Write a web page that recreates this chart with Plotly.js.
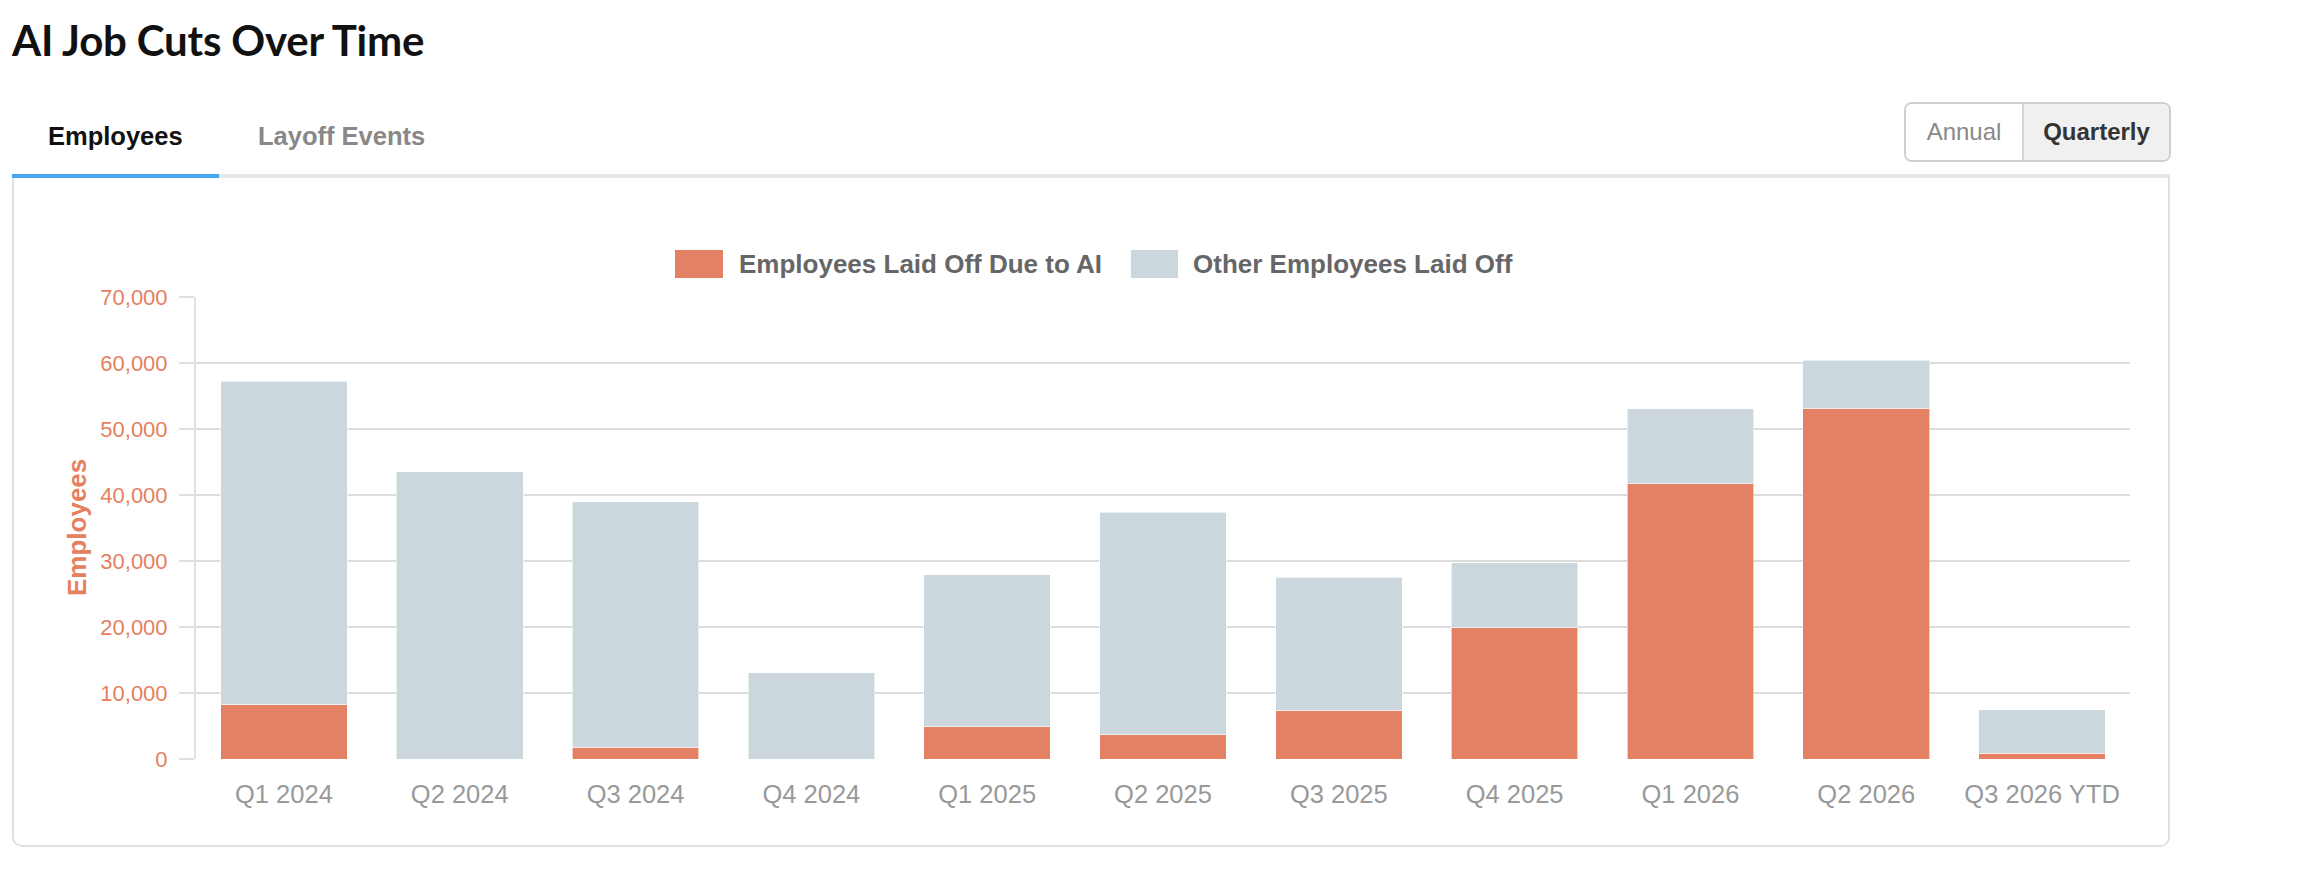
<!DOCTYPE html>
<html>
<head>
<meta charset="utf-8">
<title>AI Job Cuts Over Time</title>
<script src="https://cdn.plot.ly/plotly-3.0.1.min.js"></script>
<style>
    body { margin: 0; background: #fff; font-family: "Liberation Sans", Arial, sans-serif; }
    #page { position: relative; width: 2306px; height: 890px; overflow: hidden; }
    .abs { position: absolute; white-space: nowrap; }
    #title { left: 12px; top: 16px; font-family: Lato, sans-serif; font-weight: 700; font-size: 42px; line-height: 48px; color: #111; letter-spacing: -0.2px; }
    .tab { top: 121px; font-size: 25.5px; line-height: 30px; font-weight: bold; }
    #tabEmployees { left: 48px; color: #111; }
    #tabEvents { left: 258px; color: #888; }
    #tabLine { left: 12px; top: 174px; width: 2158px; height: 4px; background: #e6e6e6; }
    #tabActive { left: 12px; top: 174px; width: 207px; height: 4px; background: #45a6f2; }
    #card { left: 12px; top: 178px; width: 2154px; height: 667px; border: 2px solid #e0e0e0; border-top: none; border-radius: 0 0 10px 10px; }
    #toggle { left: 1904px; top: 102px; width: 263px; height: 56px; border: 2px solid #cfcfcf; border-radius: 8px; overflow: hidden; display: flex; }
    #toggle div { height: 56px; line-height: 56px; font-size: 24px; text-align: center; }
    #btnAnnual { width: 116px; color: #888; background: #fff; border-right: 2px solid #d6d6d6; }
    #btnQuarterly { flex: 1; color: #333; font-weight: bold; background: #f0f0f0; }
    #chart { position: absolute; left: 0; top: 0; width: 2306px; height: 890px; }
</style>
</head>
<body>
<div id="page">
    <div id="title" class="abs">AI Job Cuts Over Time</div>
    <div id="tabEmployees" class="abs tab">Employees</div>
    <div id="tabEvents" class="abs tab">Layoff Events</div>
    <div id="toggle" class="abs">
        <div id="btnAnnual">Annual</div>
        <div id="btnQuarterly">Quarterly</div>
    </div>
    <div id="tabLine" class="abs"></div>
    <div id="tabActive" class="abs"></div>
    <div id="card" class="abs"></div>
    <div id="chart"></div>
</div>
<script>
    // quarterly layoffs
    var quarters = ['Q1 2024', 'Q2 2024', 'Q3 2024', 'Q4 2024', 'Q1 2025', 'Q2 2025',
        'Q3 2025', 'Q4 2025', 'Q1 2026', 'Q2 2026', 'Q3 2026 YTD'];
    var aiLayoffs = [8200, 0, 1750, 0, 4900, 3650, 7400, 19850, 41700, 53150, 870];
    var otherLayoffs = [49000, 43500, 37250, 13100, 23000, 33750, 20150, 9850, 11400, 7300, 6630];

    var seriesNames = ['Employees Laid Off Due to AI', 'Other Employees Laid Off'];
    var seriesColors = ['#e48063', '#cbd6dd'];
    var yTicks = [0, 10000, 20000, 30000, 40000, 50000, 60000, 70000];

    var orange = '#e5805f';
    var fontFamily = 'Liberation Sans, Arial, sans-serif';

    // plot area in page pixels, used to place the legend and axis title
    var plotLeft = 196, plotRight = 2130, plotTop = 297, plotBottom = 759;
    function px(x) { return (x - plotLeft) / (plotRight - plotLeft); }
    function py(y) { return (plotBottom - y) / (plotBottom - plotTop); }

    var traces = [aiLayoffs, otherLayoffs].map(function (values, i) {
        return {
            type: 'bar',
            x: quarters,
            y: values,
            name: seriesNames[i],
            marker: { color: seriesColors[i], line: { color: 'rgba(255,255,255,0.6)', width: 1 } },
            hoverinfo: 'skip'
        };
    });

    // legend drawn by hand: swatches are wide blocks in the original
    var legendItems = [
        { swatch: [675, 723], textX: 737 },
        { swatch: [1131, 1178], textX: 1191 }
    ];
    var shapes = [], annotations = [];
    legendItems.forEach(function (item, i) {
        shapes.push({
            type: 'rect', xref: 'paper', yref: 'paper',
            x0: px(item.swatch[0]), x1: px(item.swatch[1]), y0: py(278), y1: py(250),
            fillcolor: seriesColors[i], line: { width: 0 }
        });
        annotations.push({
            xref: 'paper', yref: 'paper', x: px(item.textX), y: py(264),
            xanchor: 'left', yanchor: 'middle', showarrow: false,
            text: seriesNames[i],
            font: { family: fontFamily, size: 26, color: '#666', weight: 'bold' }
        });
    });

    // y axis title
    annotations.push({
        xref: 'paper', yref: 'paper', x: px(77), y: 0.5,
        xanchor: 'center', yanchor: 'middle', showarrow: false, textangle: -90,
        text: 'Employees',
        font: { family: fontFamily, size: 26, color: orange, weight: 'bold' }
    });

    var layout = {
        width: 2306,
        height: 890,
        margin: { l: plotLeft, r: 2306 - plotRight, t: plotTop, b: 890 - plotBottom, pad: 0 },
        paper_bgcolor: 'rgba(0,0,0,0)',
        plot_bgcolor: 'rgba(0,0,0,0)',
        barmode: 'stack',
        bargap: 0.28,
        showlegend: false,
        font: { family: fontFamily },
        xaxis: {
            type: 'category',
            range: [-0.5, quarters.length - 0.5],
            showgrid: false,
            showline: false,
            ticks: '',
            ticklabelstandoff: 17,
            tickfont: { size: 25.5, color: '#999' },
            fixedrange: true
        },
        yaxis: {
            range: [0, 70000],
            tickvals: yTicks,
            tickformat: ',d',
            ticks: 'outside',
            ticklen: 15,
            tickwidth: 2,
            tickcolor: '#e0e0e0',
            ticklabelstandoff: 7,
            tickfont: { size: 22, color: orange },
            showline: true,
            linecolor: '#e2e2e2',
            linewidth: 2,
            gridcolor: '#dcdcdc',
            gridwidth: 2,
            zeroline: false,
            fixedrange: true
        },
        shapes: shapes,
        annotations: annotations
    };

    Plotly.newPlot('chart', traces, layout, { displayModeBar: false, staticPlot: true });
</script>
</body>
</html>
